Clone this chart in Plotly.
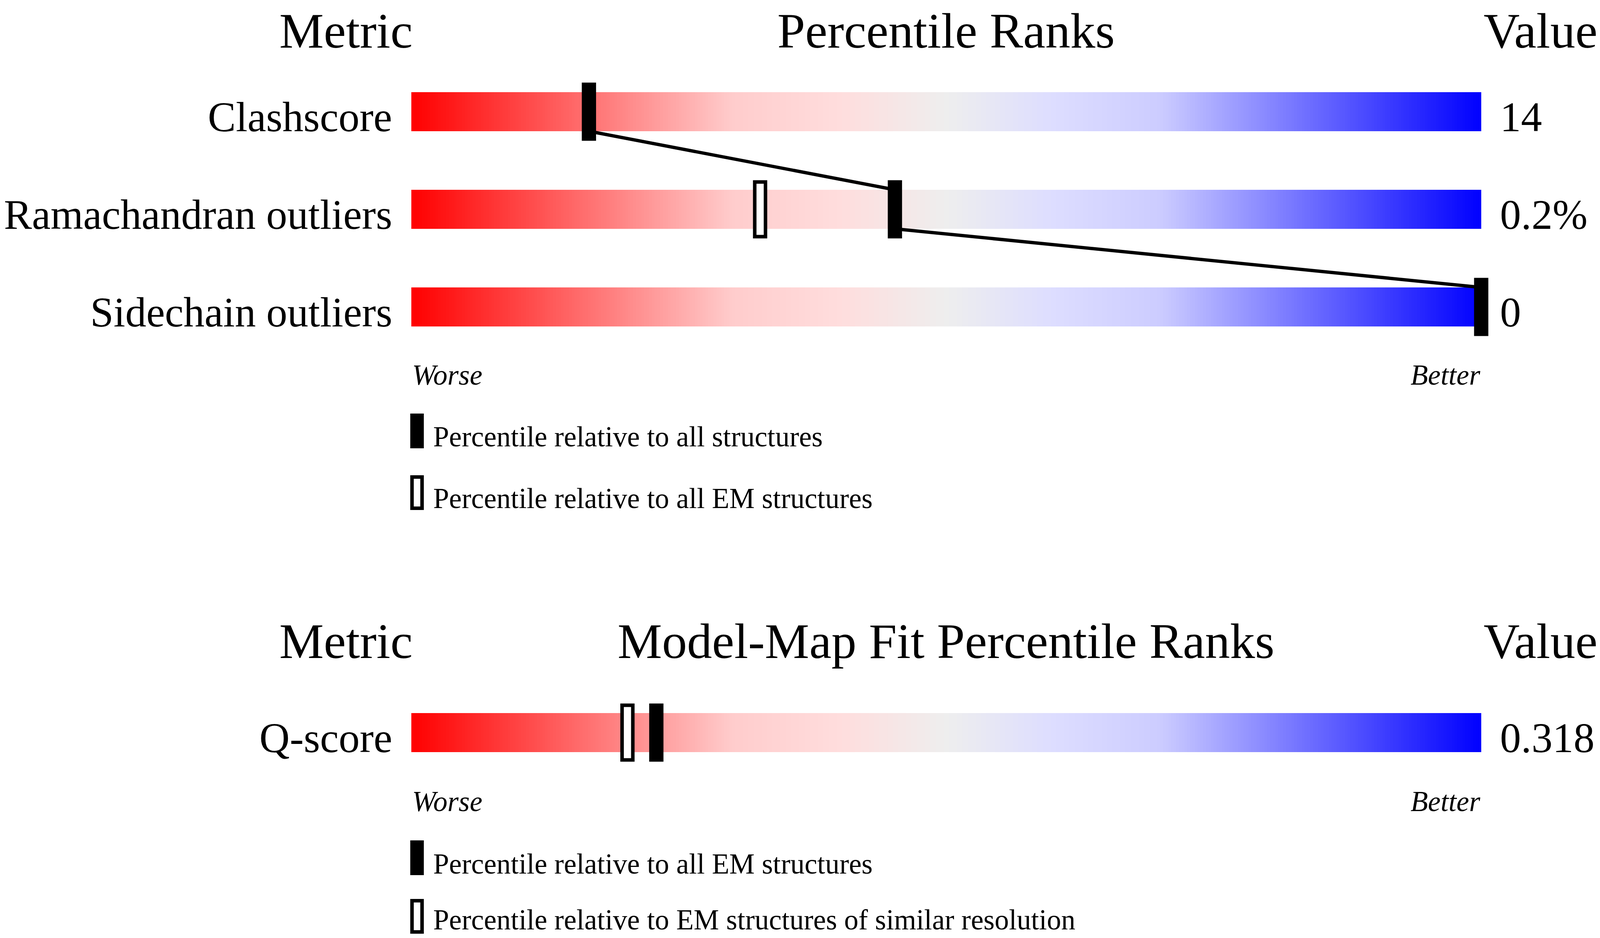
import numpy as np
import plotly.graph_objects as go

# --- data ---
GEOM_METRICS = ["Clashscore", "Ramachandran outliers", "Sidechain outliers"]
GEOM_VALUES = ["14", "0.2%", "0"]
GEOM_PCT_ALL = [16.6, 45.2, 100]      # filled marker: all structures
GEOM_PCT_EM = [None, 32.6, None]      # open marker: all EM structures

FIT_METRICS = ["Q-score"]
FIT_VALUES = ["0.318"]
FIT_PCT_EM = [22.9]                   # filled marker: all EM structures
FIT_PCT_RES = [20.2]                  # open marker: EM structures of similar resolution

GEOM_LEGEND = ["Percentile relative to all structures",
               "Percentile relative to all EM structures"]
FIT_LEGEND = ["Percentile relative to all EM structures",
              "Percentile relative to EM structures of similar resolution"]

# --- layout: positions are given in pixels of the 4485 x 2402 reference ---
REF_W, REF_H = 4485, 2402
VIEW_W = 4096                 # browser viewport is capped at this width
K = VIEW_W / REF_W            # horizontal squeeze from reference to viewport
BODY_MARGIN = 8
FIG_W, FIG_H = VIEW_W - BODY_MARGIN, REF_H - BODY_MARGIN

BAR_LEFT_PX, BAR_RIGHT_PX = 1153, 4152
PX_PER_PCT = (BAR_RIGHT_PX - BAR_LEFT_PX) / 100.0
BAR_H = 100
MARK_H = 149
MARK_W = 40
OPEN_LW = 9
LINK_W = 8.5
FONT = "Liberation Serif, Times New Roman, serif"
HEAD_F, LABEL_F, SMALL_F = 128, 107.5, 73

GRADIENT = [[0.0, "#ff0000"], [0.3, "#ffcccc"], [0.4, "#ffdddd"], [0.5, "#eeeeee"],
            [0.6, "#ddddff"], [0.7, "#ccccff"], [1.0, "#0000ff"]]


def px2pct(px):
    return (px - BAR_LEFT_PX) / PX_PER_PCT


def text_y(baseline, size):
    # annotation centre for a given text baseline
    return baseline - 0.34 * size


fig = go.Figure()
shapes = []
annotations = []


def add_text(txt, x, baseline, size, anchor, italic=False):
    annotations.append(dict(
        x=x, y=text_y(baseline, size), xref="x", yref="y", text=txt, showarrow=False,
        xanchor=anchor, yanchor="middle",
        font=dict(family=FONT, size=size, color="black", style="italic" if italic else "normal"),
    ))


def rect(x0, x1, y0, y1, filled, above=False):
    if filled:
        shapes.append(dict(type="rect", xref="x", yref="y", layer="above" if above else "below",
                           x0=x0, x1=x1, y0=y0, y1=y1, fillcolor="black", line=dict(width=0)))
    else:
        ix = OPEN_LW / 2 / K / PX_PER_PCT
        iy = OPEN_LW / 2
        shapes.append(dict(type="rect", xref="x", yref="y", layer="above" if above else "below",
                           x0=x0 + ix, x1=x1 - ix, y0=y0 + iy, y1=y1 - iy,
                           fillcolor="white", line=dict(color="black", width=OPEN_LW)))


def marker(pct, center_y, filled):
    hw = MARK_W / 2 / PX_PER_PCT
    rect(pct - hw, pct + hw, center_y - MARK_H / 2, center_y + MARK_H / 2, filled, above=True)


def section(title, header_base, bar_tops, metrics, values, pct_filled, pct_open,
            worse_base, legend_texts, legend_tops, legend_bases):
    add_text("Metric", px2pct(970), header_base, HEAD_F, "center")
    add_text(title, 50, header_base, HEAD_F, "center")
    add_text("Value", px2pct(4480), header_base, HEAD_F, "right")

    edges = np.linspace(0, 100, 401)
    centers = (edges[:-1] + edges[1:]) / 2
    link_x, link_y = [], []
    for i, top in enumerate(bar_tops):
        bottom = top + BAR_H
        fig.add_trace(go.Heatmap(
            x=edges, y=[top, bottom], z=[centers], zmin=0, zmax=100,
            colorscale=GRADIENT, showscale=False, hoverinfo="skip",
        ))
        add_text(metrics[i], px2pct(1101), bottom, LABEL_F, "right")
        add_text(values[i], px2pct(4202), bottom, LABEL_F, "left")
        cy = top + BAR_H / 2
        if pct_open[i] is not None:
            marker(pct_open[i], cy, False)
        if pct_filled[i] is not None:
            marker(pct_filled[i], cy, True)
            if i > 0:
                # from the previous bar's bottom edge to this bar's top edge
                link_x += [pct_filled[i - 1], pct_filled[i], None]
                link_y += [bar_tops[i - 1] + BAR_H, top, None]
    if link_x:
        fig.add_trace(go.Scatter(x=link_x, y=link_y, mode="lines", hoverinfo="skip",
                                 line=dict(color="black", width=LINK_W)))

    add_text("Worse", 0, worse_base, SMALL_F, "left", italic=True)
    add_text("Better", 100, worse_base, SMALL_F, "right", italic=True)

    for j, (txt, top, base) in enumerate(zip(legend_texts, legend_tops, legend_bases)):
        rect(px2pct(1150), px2pct(1188), top, top + 89, filled=(j == 0))
        add_text(txt, px2pct(1212), base, SMALL_F, "left")


section("Percentile Ranks", 123, [236, 486, 736], GEOM_METRICS, GEOM_VALUES,
        GEOM_PCT_ALL, GEOM_PCT_EM, 985, GEOM_LEGEND, [1059, 1217], [1143, 1301])
section("Model-Map Fit Percentile Ranks", 1686, [1826], FIT_METRICS, FIT_VALUES,
        FIT_PCT_EM, FIT_PCT_RES, 2077, FIT_LEGEND, [2152, 2302], [2237, 2380])

fig.update_layout(
    width=FIG_W, height=FIG_H,
    margin=dict(l=0, r=0, t=0, b=0),
    paper_bgcolor="white", plot_bgcolor="white",
    showlegend=False,
    shapes=shapes,
    annotations=annotations,
    xaxis=dict(range=[px2pct(BODY_MARGIN / K), px2pct(REF_W)], visible=False, fixedrange=True),
    yaxis=dict(range=[REF_H, BODY_MARGIN], visible=False, fixedrange=True),
)

fig.write_html("out.html")
